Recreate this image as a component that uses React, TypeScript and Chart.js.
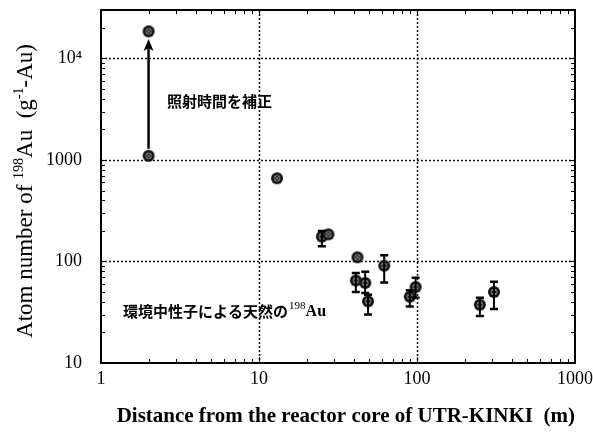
import React, { useEffect, useRef } from 'react';
import { Chart, registerables } from 'chart.js';

Chart.register(...registerables);

// ---- data ----
const distanceM = [2, 13, 25, 27.5, 41, 42, 47, 49, 62, 90, 98, 250, 307];
const atomNumber = [1100, 660, 176, 185, 65, 110, 61.5, 40.5, 91, 45, 56, 37.5, 50];
const errLow: (number | null)[] = [null, null, 141, null, 50, null, 49, 30, 62, 36, 44, 29, 34];
const errHigh: (number | null)[] = [null, null, 200, null, 77, null, 79, 47, 115, 52, 69, 44, 63];
const correctedDistance = [2];
const correctedAtoms = [18500];
const arrowDistance = 2;
const arrowFrom = 1100;
const arrowTo = 15500;
const xTicks = [1, 10, 100, 1000];
const yTicks = [10, 100, 1000, 10000];
const yTickLabels = ['10', '100', '1000', '10⁴'];
const xMin = 1, xMax = 1000, yMin = 10, yMax = 30000;
const note1 = '照射時間を補正';
const note1At = { x: 2.62, y: 3750 };
const note2 = '環境中性子による天然の';
const note2At = { x: 1.38, y: 32.5 };
const xTitle = 'Distance from the reactor core of UTR-KINKI  (m)';

const SERIF = '"Liberation Serif", "Times New Roman", serif';
const CJK = '"Noto Sans CJK JP", sans-serif';

function makePointImage(): HTMLCanvasElement {
  const c = document.createElement('canvas');
  c.width = 14; c.height = 14;
  const g = c.getContext('2d')!;
  g.fillStyle = '#111';
  g.beginPath(); g.arc(7, 7, 6, 0, Math.PI * 2); g.fill();
  g.strokeStyle = '#9a9a9a'; g.lineWidth = 0.8;
  g.beginPath(); g.arc(7, 7, 3, 0, Math.PI * 2); g.stroke();
  g.beginPath(); g.moveTo(5, 5); g.lineTo(9, 9); g.moveTo(9, 5); g.lineTo(5, 9); g.stroke();
  return c;
}

const decorPlugin = {
  id: 'decor',
  beforeDatasetsDraw(chart: any) {
    const { ctx, chartArea: a, scales } = chart;
    const xs = scales.x, ys = scales.y;
    ctx.save();
    ctx.strokeStyle = '#111';
    ctx.lineWidth = 1.5;
    ctx.setLineDash([2, 2]);
    xTicks.forEach((v) => {
      if (v <= xMin || v >= xMax) return;
      const px = Math.round(xs.getPixelForValue(v)) + 0.5;
      ctx.beginPath(); ctx.moveTo(px, a.top); ctx.lineTo(px, a.bottom); ctx.stroke();
    });
    yTicks.forEach((v) => {
      if (v <= yMin || v >= yMax) return;
      const py = Math.round(ys.getPixelForValue(v)) + 0.5;
      ctx.beginPath(); ctx.moveTo(a.left, py); ctx.lineTo(a.right, py); ctx.stroke();
    });
    ctx.restore();
  },
  afterDatasetsDraw(chart: any) {
    const { ctx, chartArea: a, scales } = chart;
    const xs = scales.x, ys = scales.y;
    ctx.save();
    // error bars
    ctx.strokeStyle = '#000';
    for (let i = 0; i < distanceM.length; i++) {
      const lo = errLow[i], hi = errHigh[i];
      if (lo == null || hi == null) continue;
      const px = xs.getPixelForValue(distanceM[i]);
      const y1 = ys.getPixelForValue(lo), y2 = ys.getPixelForValue(hi);
      ctx.lineWidth = 2;
      ctx.beginPath(); ctx.moveTo(px, y1); ctx.lineTo(px, y2); ctx.stroke();
      ctx.lineWidth = 2.5;
      ctx.beginPath();
      ctx.moveTo(px - 4, y1); ctx.lineTo(px + 4, y1);
      ctx.moveTo(px - 4, y2); ctx.lineTo(px + 4, y2);
      ctx.stroke();
    }
    // arrow
    const ax = xs.getPixelForValue(arrowDistance);
    const ay1 = ys.getPixelForValue(arrowFrom) - 7;
    const ay2 = ys.getPixelForValue(arrowTo);
    ctx.lineWidth = 2.5;
    ctx.beginPath(); ctx.moveTo(ax, ay1); ctx.lineTo(ax, ay2 + 8); ctx.stroke();
    ctx.fillStyle = '#000';
    ctx.beginPath();
    ctx.moveTo(ax, ay2); ctx.lineTo(ax - 5, ay2 + 12); ctx.lineTo(ax, ay2 + 9); ctx.lineTo(ax + 5, ay2 + 12);
    ctx.closePath(); ctx.fill();

    // frame
    ctx.lineWidth = 2;
    ctx.strokeRect(a.left, a.top, a.right - a.left, a.bottom - a.top);
    // minor ticks
    ctx.lineWidth = 1;
    const tl = 4;
    for (let d = 1; d < 1000; d *= 10) {
      for (let m = 2; m <= 9; m++) {
        const px = Math.round(xs.getPixelForValue(d * m)) + 0.5;
        ctx.beginPath();
        ctx.moveTo(px, a.bottom); ctx.lineTo(px, a.bottom - tl);
        ctx.moveTo(px, a.top); ctx.lineTo(px, a.top + tl);
        ctx.stroke();
      }
    }
    for (let d = 10; d < yMax; d *= 10) {
      for (let m = 2; m <= 9; m++) {
        const v = d * m;
        if (v >= yMax) break;
        const py = Math.round(ys.getPixelForValue(v)) + 0.5;
        ctx.beginPath();
        ctx.moveTo(a.left, py); ctx.lineTo(a.left + tl, py);
        ctx.moveTo(a.right, py); ctx.lineTo(a.right - tl, py);
        ctx.stroke();
      }
    }
    yTicks.forEach((v) => {
      const py = Math.round(ys.getPixelForValue(v)) + 0.5;
      ctx.beginPath();
      ctx.moveTo(a.left, py); ctx.lineTo(a.left + 6, py);
      ctx.moveTo(a.right, py); ctx.lineTo(a.right - 6, py);
      ctx.stroke();
    });
    xTicks.forEach((v) => {
      const px = Math.round(xs.getPixelForValue(v)) + 0.5;
      ctx.beginPath();
      ctx.moveTo(px, a.bottom); ctx.lineTo(px, a.bottom - 6);
      ctx.moveTo(px, a.top); ctx.lineTo(px, a.top + 6);
      ctx.stroke();
    });

    // annotations
    ctx.fillStyle = '#000';
    ctx.textBaseline = 'middle';
    ctx.textAlign = 'left';
    ctx.font = `bold 15px ${CJK}`;
    ctx.fillText(note1, xs.getPixelForValue(note1At.x), ys.getPixelForValue(note1At.y));
    const n2x = xs.getPixelForValue(note2At.x);
    const n2y = ys.getPixelForValue(note2At.y);
    ctx.fillText(note2, n2x, n2y);
    const w2 = ctx.measureText(note2).width;
    ctx.font = `11px ${SERIF}`;
    ctx.fillText('198', n2x + w2 + 1, n2y - 5);
    const ws = ctx.measureText('198').width;
    ctx.font = `bold 16px ${SERIF}`;
    ctx.fillText('Au', n2x + w2 + 1 + ws, n2y + 1);

    // y axis title with superscripts
    const segs: [string, boolean][] = [
      ['Atom number of ', false], ['198', true], ['Au  (g', false], ['-1', true], ['-Au)', false],
    ];
    const big = `23px ${SERIF}`, small = `14px ${SERIF}`;
    let total = 0;
    segs.forEach(([t, s]) => { ctx.font = s ? small : big; total += ctx.measureText(t).width; });
    ctx.translate(32, 191);
    ctx.rotate(-Math.PI / 2);
    let cx = -total / 2;
    ctx.textBaseline = 'alphabetic';
    segs.forEach(([t, s]) => {
      ctx.font = s ? small : big;
      ctx.fillText(t, cx, s ? -9 : 0);
      cx += ctx.measureText(t).width;
    });
    ctx.restore();
  },
};

export default function App() {
  const ref = useRef<HTMLCanvasElement>(null);
  useEffect(() => {
    const img = makePointImage();
    const chart = new Chart(ref.current!, {
      type: 'scatter',
      data: {
        datasets: [
          {
            label: 'measured',
            data: distanceM.map((d, i) => ({ x: d, y: atomNumber[i] })),
            pointStyle: img as any,
            pointRadius: 6,
            backgroundColor: '#111',
            borderColor: '#000',
          },
          {
            label: 'corrected',
            data: correctedDistance.map((d, i) => ({ x: d, y: correctedAtoms[i] })),
            pointStyle: img as any,
            pointRadius: 6,
            backgroundColor: '#111',
            borderColor: '#000',
          },
        ],
      },
      options: {
        animation: false,
        responsive: true,
        maintainAspectRatio: false,
        layout: { padding: 0 },
        plugins: { legend: { display: false }, tooltip: { enabled: false } },
        scales: {
          x: {
            type: 'logarithmic',
            min: xMin,
            max: xMax,
            grid: { display: false, drawTicks: false },
            border: { display: false },
            afterBuildTicks: (s: any) => { s.ticks = xTicks.map((v) => ({ value: v })); },
            afterFit: (s: any) => { s.height = 71; s.paddingLeft = 0; s.paddingRight = 18; },
            ticks: {
              autoSkip: false,
              maxRotation: 0,
              padding: 5,
              color: '#000',
              font: { family: SERIF, size: 18 },
              callback: (v: any) => String(v),
            },
            title: {
              display: true,
              text: xTitle,
              align: 'end',
              color: '#000',
              font: { family: SERIF, size: 21, weight: 'bold' },
              padding: { top: 0, bottom: 5 },
            },
          },
          y: {
            type: 'logarithmic',
            min: yMin,
            max: yMax,
            grid: { display: false, drawTicks: false },
            border: { display: false },
            afterBuildTicks: (s: any) => { s.ticks = yTicks.map((v) => ({ value: v })); },
            afterFit: (s: any) => { s.width = 101; s.paddingTop = 10; s.paddingBottom = 0; },
            ticks: {
              autoSkip: false,
              padding: 19,
              color: '#000',
              font: { family: SERIF, size: 18 },
              callback: (v: any) => {
                const i = yTicks.indexOf(Number(v));
                return i >= 0 ? yTickLabels[i] : '';
              },
            },
          },
        },
      },
      plugins: [decorPlugin],
    });
    return () => chart.destroy();
  }, []);
  return (
    <div style={{ position: 'absolute', left: 0, top: 0, width: 593, height: 434, background: '#fff' }}>
      <canvas ref={ref} />
    </div>
  );
}
